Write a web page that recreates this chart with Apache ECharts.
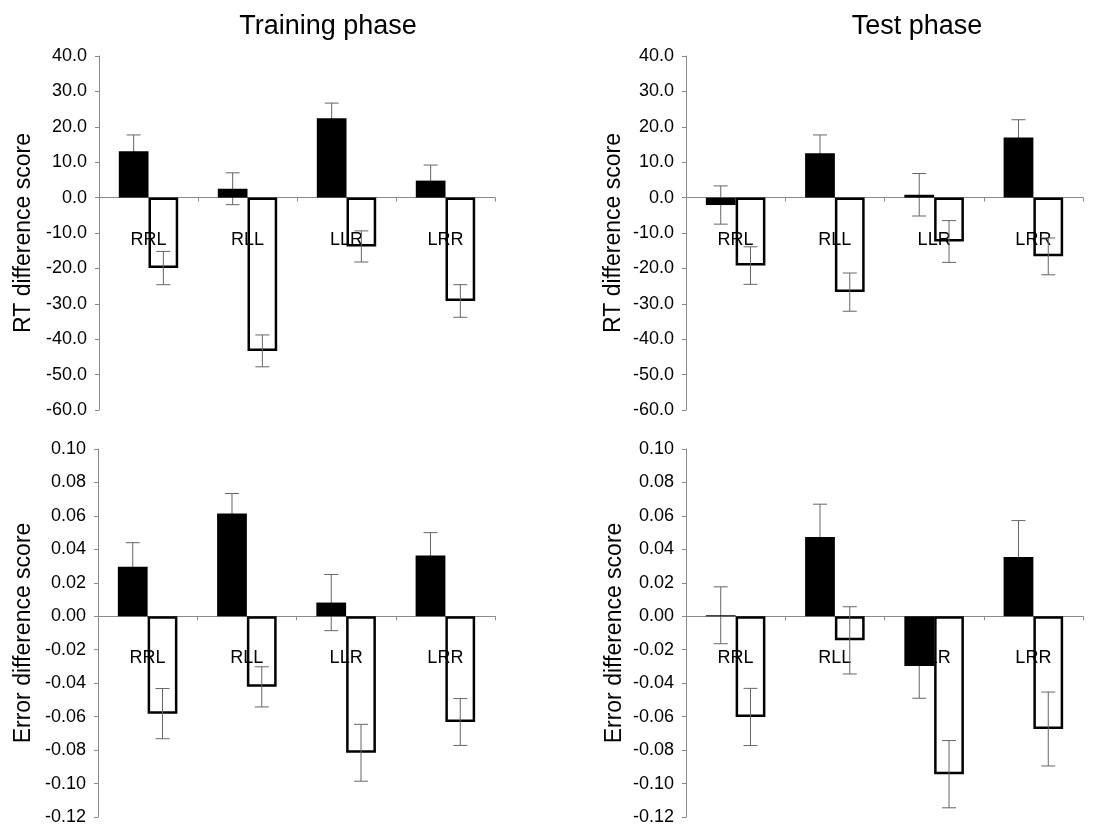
<!DOCTYPE html>
<html>
<head>
<meta charset="utf-8">
<script src="https://cdn.jsdelivr.net/npm/echarts@6/dist/echarts.min.js"></script>
<style>
  html, body { margin: 0; padding: 0; background: #fff; }
  #chart { width: 1094px; height: 828px; }
</style>
</head>
<body>
<div id="chart"></div>
<script>
// Sequence conditions on the x axis
const categories = ['RRL', 'RLL', 'LLR', 'LRR'];

// Training phase, reaction-time difference scores (filled / open bars) and their error bars
const trainRTFilled = [13.1, 2.5, 22.4, 4.8];
const trainRTFilledErr = [4.6, 4.5, 4.3, 4.4];
const trainRTOpen = [-19.9, -43.3, -13.8, -29.2];
const trainRTOpenErr = [4.7, 4.5, 4.4, 4.6];

// Test phase, reaction-time difference scores
const testRTFilled = [-2.1, 12.5, 0.8, 17.0];
const testRTFilledErr = [5.4, 5.2, 6.0, 5.0];
const testRTOpen = [-19.2, -26.7, -12.4, -16.6];
const testRTOpenErr = [5.3, 5.4, 5.9, 5.2];

// Training phase, error difference scores
const trainErrFilled = [0.0296, 0.0614, 0.0082, 0.0364];
const trainErrFilledErr = [0.0144, 0.012, 0.0168, 0.0136];
const trainErrOpen = [-0.0582, -0.0422, -0.0816, -0.0632];
const trainErrOpenErr = [0.015, 0.012, 0.017, 0.014];

// Test phase, error difference scores
const testErrFilled = [0.0006, 0.0474, -0.0298, 0.0354];
const testErrFilledErr = [0.017, 0.0196, 0.0192, 0.0218];
const testErrOpen = [-0.0602, -0.0144, -0.0944, -0.0674];
const testErrOpenErr = [0.0171, 0.0201, 0.0201, 0.0221];

// Axis ranges and labels
const rtAxis = { min: -60, max: 40, interval: 10, decimals: 1, name: 'RT difference score' };
const errAxis = { min: -0.12, max: 0.10, interval: 0.02, decimals: 2, name: 'Error difference score' };
const panelTitles = ['Training phase', 'Test phase'];

const FONT = '"Liberation Sans", Arial, Helvetica, sans-serif';
const axisGray = '#8a8a8a';

const panels = [
  { grid: { left: 99, top: 56, width: 396, height: 354 }, axis: rtAxis, filled: trainRTFilled, filledErr: trainRTFilledErr, open: trainRTOpen, openErr: trainRTOpenErr, nameGap: 64, labelOffset: 42 },
  { grid: { left: 686, top: 56, width: 397, height: 354 }, axis: rtAxis, filled: testRTFilled, filledErr: testRTFilledErr, open: testRTOpen, openErr: testRTOpenErr, nameGap: 61, labelOffset: 42 },
  { grid: { left: 98, top: 449, width: 397, height: 368 }, axis: errAxis, filled: trainErrFilled, filledErr: trainErrFilledErr, open: trainErrOpen, openErr: trainErrOpenErr, nameGap: 63, labelOffset: 42 },
  { grid: { left: 686, top: 449, width: 397, height: 368 }, axis: errAxis, filled: testErrFilled, filledErr: testErrFilledErr, open: testErrOpen, openErr: testErrOpenErr, nameGap: 60, labelOffset: 42 }
];

const BAR_FRACTION = 0.30; // each bar takes 30% of a category band

function errorBarSeries(idx, values, errs, side) {
  return {
    type: 'custom',
    xAxisIndex: idx,
    yAxisIndex: idx,
    z: 3,
    silent: true,
    data: values.map((v, i) => [i, v, errs[i]]),
    renderItem: function (params, api) {
      const i = api.value(0);
      const v = api.value(1);
      const e = api.value(2);
      const band = api.size([1, 0])[0];
      const dx = side * band * BAR_FRACTION / 2;
      const hi = api.coord([i, v + e]);
      const lo = api.coord([i, v - e]);
      const x = hi[0] + dx;
      const cap = 7;
      const style = { stroke: '#666', lineWidth: 1, fill: null };
      return {
        type: 'group',
        children: [
          { type: 'line', shape: { x1: x, y1: hi[1], x2: x, y2: lo[1] }, style: style },
          { type: 'line', shape: { x1: x - cap, y1: hi[1], x2: x + cap, y2: hi[1] }, style: style },
          { type: 'line', shape: { x1: x - cap, y1: lo[1], x2: x + cap, y2: lo[1] }, style: style }
        ]
      };
    }
  };
}

// Category names sit just below the zero line: above the open bars, under the filled ones
function categoryLabelSeries(idx, offset) {
  return {
    type: 'custom',
    xAxisIndex: idx,
    yAxisIndex: idx,
    z: 3,
    silent: true,
    data: categories.map((c, i) => [i, 0]),
    renderItem: function (params, api) {
      const i = api.value(0);
      const p = api.coord([i, 0]);
      return {
        type: 'text',
        style: {
          text: categories[i],
          x: p[0],
          y: p[1] + offset,
          align: 'center',
          verticalAlign: 'middle',
          fill: '#000',
          font: '18px ' + FONT
        }
      };
    }
  };
}

const grids = [], xAxes = [], yAxes = [], series = [];

panels.forEach((p, idx) => {
  grids.push(Object.assign({ containLabel: false }, p.grid));
  xAxes.push({
    type: 'category',
    gridIndex: idx,
    data: categories,
    axisLine: { onZero: true, lineStyle: { color: axisGray, width: 1 } },
    axisTick: { show: true, length: 4, inside: false, lineStyle: { color: axisGray } },
    axisLabel: { show: false },
    splitLine: { show: false }
  });
  yAxes.push({
    type: 'value',
    gridIndex: idx,
    min: p.axis.min,
    max: p.axis.max,
    interval: p.axis.interval,
    name: p.axis.name,
    nameLocation: 'middle',
    nameGap: p.nameGap,
    nameRotate: 90,
    nameTextStyle: { color: '#000', fontSize: 23, fontFamily: FONT },
    axisLine: { show: true, lineStyle: { color: axisGray, width: 1 } },
    axisTick: { show: true, length: 4, lineStyle: { color: axisGray } },
    axisLabel: {
      color: '#000', fontSize: 18, fontFamily: FONT, margin: 12,
      formatter: (v) => v.toFixed(p.axis.decimals)
    },
    splitLine: { show: false }
  });
  series.push({
    type: 'bar',
    xAxisIndex: idx,
    yAxisIndex: idx,
    z: 4,
    data: p.filled,
    barWidth: (BAR_FRACTION * 100) + '%',
    barGap: '0%',
    itemStyle: { color: '#000', borderWidth: 0 },
    silent: true
  });
  series.push({
    type: 'bar',
    xAxisIndex: idx,
    yAxisIndex: idx,
    z: 2,
    data: p.open,
    barWidth: (BAR_FRACTION * 100) + '%',
    barGap: '0%',
    itemStyle: { color: '#fff', borderColor: '#000', borderWidth: 2.5 },
    silent: true
  });
  series.push(categoryLabelSeries(idx, p.labelOffset));
  series.push(errorBarSeries(idx, p.open, p.openErr, 1));
  series.push(errorBarSeries(idx, p.filled, p.filledErr, -1));
});

const chart = echarts.init(document.getElementById('chart'), null, { renderer: 'canvas' });
chart.setOption({
  backgroundColor: '#fff',
  animation: false,
  title: [
    { text: panelTitles[0], left: 323, top: 8, textAlign: 'center', textStyle: { fontSize: 27, fontWeight: 'normal', color: '#000', fontFamily: FONT } },
    { text: panelTitles[1], left: 912, top: 8, textAlign: 'center', textStyle: { fontSize: 27, fontWeight: 'normal', color: '#000', fontFamily: FONT } }
  ],
  grid: grids,
  xAxis: xAxes,
  yAxis: yAxes,
  series: series
});
</script>
</body>
</html>
